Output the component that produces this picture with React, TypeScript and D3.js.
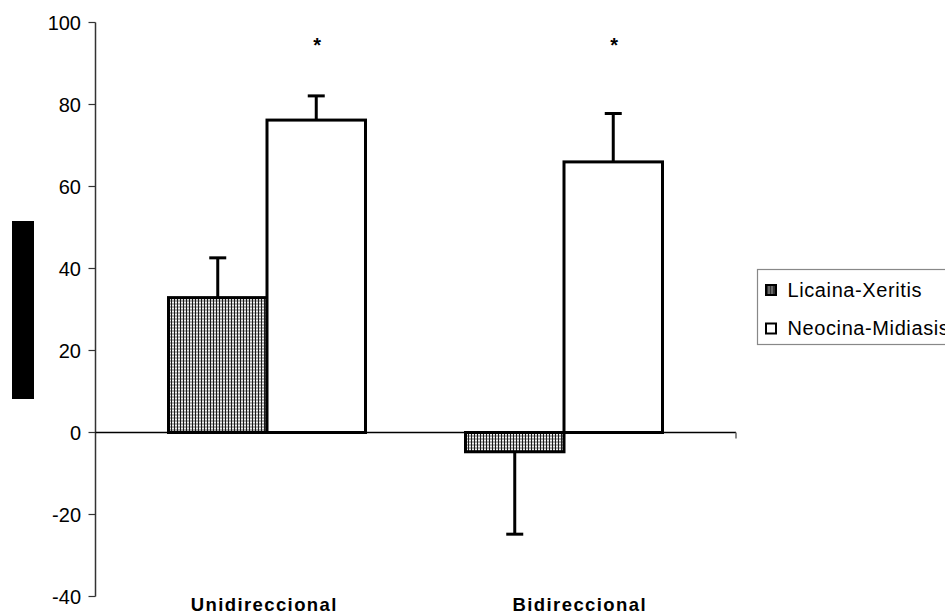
import React from "react";
import * as d3 from "d3";

const categories = ["Unidireccional", "Bidireccional"];
const seriesNames = ["Licaina-Xeritis", "Neocina-Midiasis"];
const licainaValues = [32.9, -4.7];
const licainaErrors = [9.7, 20.1];
const neocinaValues = [76.2, 66.0];
const neocinaErrors = [5.9, 11.8];
const significance = ["*", "*"];
const yTicks = [-40, -20, 0, 20, 40, 60, 80, 100];

const W = 945;
const H = 615;

export default function App() {
  const y = d3.scaleLinear().domain([-40, 100]).range([596.5, 22.5]);
  const axisX0 = 95.5;
  const axisX1 = 736;
  const x0 = d3.scaleBand<string>().domain(categories).range([118.5, 712.5]).padding(0);
  const groupW = 197;
  const x1 = d3
    .scaleBand<string>()
    .domain(seriesNames)
    .range([(x0.bandwidth() - groupW) / 2, (x0.bandwidth() + groupW) / 2])
    .padding(0);
  const xLabel = d3.scaleBand<string>().domain(categories).range([106.5, 737.5]);

  const series = [
    { name: seriesNames[0], values: licainaValues, errors: licainaErrors, fill: "url(#grid)" },
    { name: seriesNames[1], values: neocinaValues, errors: neocinaErrors, fill: "#ffffff" },
  ];

  const fontFamily = "Liberation Sans, Arial, sans-serif";
  const capW = 17;

  return (
    <svg
      width={W}
      height={H}
      style={{ position: "absolute", left: 0, top: 0, background: "#fff" }}
      fontFamily={fontFamily}
    >
      <defs>
        <pattern id="grid" width="3" height="3" patternUnits="userSpaceOnUse">
          <rect width="3" height="3" fill="#a8a8a8" />
          <rect x="0" y="0" width="1" height="3" fill="#1a1a1a" />
          <rect x="1" y="2" width="2" height="1" fill="#f0f0f0" />
        </pattern>
      </defs>

      {/* redacted y-axis title block */}
      <rect x={12} y={221} width={22} height={178} fill="#000" />

      {/* y axis */}
      <line x1={axisX0} x2={axisX0} y1={y(100)} y2={y(-40)} stroke="#333" strokeWidth={1.5} />
      {yTicks.map((t) => (
        <g key={t}>
          <line x1={axisX0 - 7} x2={axisX0} y1={y(t)} y2={y(t)} stroke="#333" strokeWidth={1.2} />
          <text x={81} y={y(t)} dy="0.36em" textAnchor="end" fontSize={20} fill="#000">
            {t}
          </text>
        </g>
      ))}

      {/* bars */}
      {series.map((s) =>
        categories.map((c, i) => {
          const v = s.values[i];
          const bx = (x0(c) ?? 0) + (x1(s.name) ?? 0);
          const bw = x1.bandwidth();
          const top = y(Math.max(0, v));
          const bottom = y(Math.min(0, v));
          const cx = bx + bw / 2;
          const errEnd = v >= 0 ? y(v + s.errors[i]) : y(v - s.errors[i]);
          const errStart = v >= 0 ? top : bottom;
          return (
            <g key={s.name + c}>
              <line x1={cx} x2={cx} y1={errStart} y2={errEnd} stroke="#000" strokeWidth={3} />
              <line x1={cx - capW / 2} x2={cx + capW / 2} y1={errEnd} y2={errEnd} stroke="#000" strokeWidth={3} />
              <rect x={bx} y={top} width={bw} height={bottom - top} fill={s.fill} stroke="#000" strokeWidth={3} />
            </g>
          );
        })
      )}

      {/* zero line */}
      <line x1={axisX0} x2={axisX1} y1={y(0)} y2={y(0)} stroke="#000" strokeWidth={1.3} />
      <line x1={axisX1} x2={axisX1} y1={y(0)} y2={y(0) + 6} stroke="#666" strokeWidth={1.5} />

      {/* significance asterisks */}
      {categories.map((c, i) => (
        <text
          key={"sig" + c}
          x={(x0(c) ?? 0) + (x1(seriesNames[1]) ?? 0) + x1.bandwidth() / 2 + 1}
          y={y(95) + 9}
          textAnchor="middle"
          fontSize={20}
          fontWeight="bold"
        >
          {significance[i]}
        </text>
      ))}

      {/* category labels */}
      {categories.map((c) => (
        <text
          key={"lbl" + c}
          x={(xLabel(c) ?? 0) + xLabel.bandwidth() / 2}
          y={611}
          textAnchor="middle"
          fontSize={18.5}
          fontWeight="bold"
          letterSpacing={1.4}
        >
          {c}
        </text>
      ))}

      {/* legend */}
      <rect x={757.5} y={269.5} width={200} height={75} fill="#fff" stroke="#888" strokeWidth={1.2} />
      {series.map((s, i) => (
        <g key={"leg" + s.name} transform={`translate(0, ${i * 38.5})`}>
          <rect
            x={766}
            y={285}
            width={10}
            height={10}
            fill={i === 0 ? "#333" : "#fff"}
            stroke="#000"
            strokeWidth={2}
          />
          {i === 0 && (
            <g>
              <line x1={769} x2={769} y1={286} y2={294} stroke="#bbb" strokeWidth={0.8} />
              <line x1={772} x2={772} y1={286} y2={294} stroke="#bbb" strokeWidth={0.8} />
            </g>
          )}
          <text x={787.5} y={296.5} fontSize={20} letterSpacing={0.6} fill="#000">
            {s.name}
          </text>
        </g>
      ))}
    </svg>
  );
}
